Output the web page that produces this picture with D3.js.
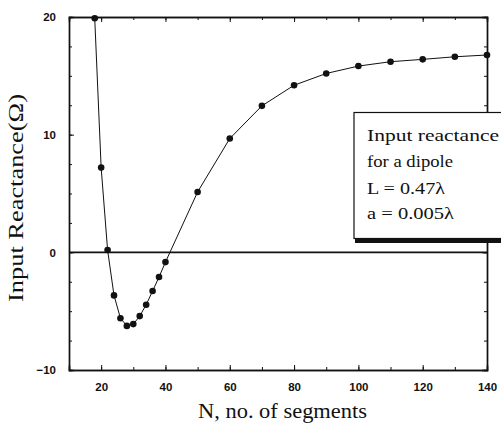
<!DOCTYPE html>
<html lang="en">
  <head>
    <meta charset="utf-8">
    <title>Input Reactance</title>
    <script src="https://d3js.org/d3.v7.min.js"></script>
    <style>
      body { margin: 0; background: white; }
      svg { display: block; }
      .tick text { font-family: "Liberation Sans", Arial, sans-serif; font-weight: bold; font-size: 11.5px; fill: #111; }
      .serif { font-family: "Liberation Serif", "Times New Roman", serif; fill: #111; }
    </style>
  </head>
  <body>
    <script>
      // N, no. of segments and the read-off input reactance (ohms)
      const segments = [18, 20, 22, 24, 26, 28, 30, 32, 34, 36, 38, 40, 50, 60, 70, 80, 90, 100, 110, 120, 130, 140];
      const reactance = [19.9, 7.2, 0.2, -3.66, -5.6, -6.25, -6.1, -5.42, -4.45, -3.29, -2.1, -0.83, 5.13, 9.67, 12.45, 14.2, 15.2, 15.83, 16.2, 16.4, 16.62, 16.77];
      const xTickValues = [20, 40, 60, 80, 100, 120, 140];
      const yTickValues = [-10, 0, 10, 20];
      const legendLines = ["Input reactance", "for a dipole", "L = 0.47\u03bb", "a = 0.005\u03bb"];

      const width = 501;
      const height = 425;
      const plotLeft = 69, plotRight = 487, plotTop = 17, plotBottom = 370;

      const x = d3.scaleLinear().domain([10, 140]).range([plotLeft, plotRight]);
      const y = d3.scaleLinear().domain([-10, 20]).range([plotBottom, plotTop]);

      const svg = d3.select("body").append("svg")
                    .attr("width", width)
                    .attr("height", height);

      // minor ticks first (inward), then major ticks with labels
      const xMinor = d3.range(10, 141, 10);
      const yMinor = d3.range(-10, 20.1, 2.5);

      svg.append("g").attr("transform", `translate(0,${plotBottom})`)
         .call(d3.axisBottom(x).tickValues(xMinor).tickSize(-3).tickFormat(""));
      svg.append("g").attr("transform", `translate(0,${plotTop})`)
         .call(d3.axisTop(x).tickValues(xMinor).tickSize(-3).tickFormat(""));
      svg.append("g").attr("transform", `translate(${plotLeft},0)`)
         .call(d3.axisLeft(y).tickValues(yMinor).tickSize(-3).tickFormat(""));
      svg.append("g").attr("transform", `translate(${plotRight},0)`)
         .call(d3.axisRight(y).tickValues(yMinor).tickSize(-3).tickFormat(""));

      svg.append("g").attr("transform", `translate(0,${plotBottom})`)
         .call(d3.axisBottom(x).tickValues(xTickValues).tickSize(-5).tickPadding(13));
      svg.append("g").attr("transform", `translate(0,${plotTop})`)
         .call(d3.axisTop(x).tickValues(xTickValues).tickSize(-5).tickFormat(""));
      svg.append("g").attr("transform", `translate(${plotLeft},0)`)
         .call(d3.axisLeft(y).tickValues(yTickValues).tickSize(-5).tickPadding(13));
      svg.append("g").attr("transform", `translate(${plotRight},0)`)
         .call(d3.axisRight(y).tickValues(yTickValues).tickSize(-5).tickFormat(""));

      svg.selectAll(".domain").attr("stroke", "#111").attr("stroke-width", 1.4);
      svg.selectAll(".tick line").attr("stroke", "#111").attr("stroke-width", 1);

      // zero line
      svg.append("line")
         .attr("x1", x(10)).attr("x2", x(140))
         .attr("y1", y(0)).attr("y2", y(0))
         .attr("stroke", "#111").attr("stroke-width", 1.6);

      const points = segments.map((n, i) => [n, reactance[i]]);

      svg.append("path")
         .datum(points)
         .attr("fill", "none")
         .attr("stroke", "#111")
         .attr("stroke-width", 1)
         .attr("d", d3.line().x(d => x(d[0])).y(d => y(d[1])));

      svg.selectAll("circle").data(points).enter().append("circle")
         .attr("cx", d => x(d[0]))
         .attr("cy", d => y(d[1]))
         .attr("r", 3.3)
         .attr("fill", "#111");

      // legend box with shadow bar
      svg.append("rect")
         .attr("x", 354).attr("y", 112.5)
         .attr("width", 170).attr("height", 126)
         .attr("fill", "white")
         .attr("stroke", "#111").attr("stroke-width", 1.2);
      svg.append("rect")
         .attr("x", 355).attr("y", 238.5)
         .attr("width", 160).attr("height", 4.5)
         .attr("fill", "#111");

      const legendWidths = [132, 86, 78, 87];
      const legendBase = [141, 167, 194, 219];
      svg.selectAll(".legend").data(legendLines).enter().append("text")
         .attr("class", "serif legend")
         .attr("x", 367)
         .attr("y", (d, i) => legendBase[i])
         .attr("font-size", 17)
         .attr("textLength", (d, i) => legendWidths[i])
         .attr("lengthAdjust", "spacingAndGlyphs")
         .text(d => d);

      // axis titles
      svg.append("text")
         .attr("class", "serif")
         .attr("x", 282.5).attr("y", 418)
         .attr("text-anchor", "middle")
         .attr("font-size", 20)
         .attr("textLength", 169)
         .attr("lengthAdjust", "spacingAndGlyphs")
         .text("N, no. of segments");

      svg.append("text")
         .attr("class", "serif")
         .attr("transform", "translate(23,198) rotate(-90)")
         .attr("x", 0).attr("y", 0)
         .attr("text-anchor", "middle")
         .attr("font-size", 20)
         .attr("textLength", 208)
         .attr("lengthAdjust", "spacingAndGlyphs")
         .text("Input Reactance(\u03a9)");
    </script>
  </body>
</html>
